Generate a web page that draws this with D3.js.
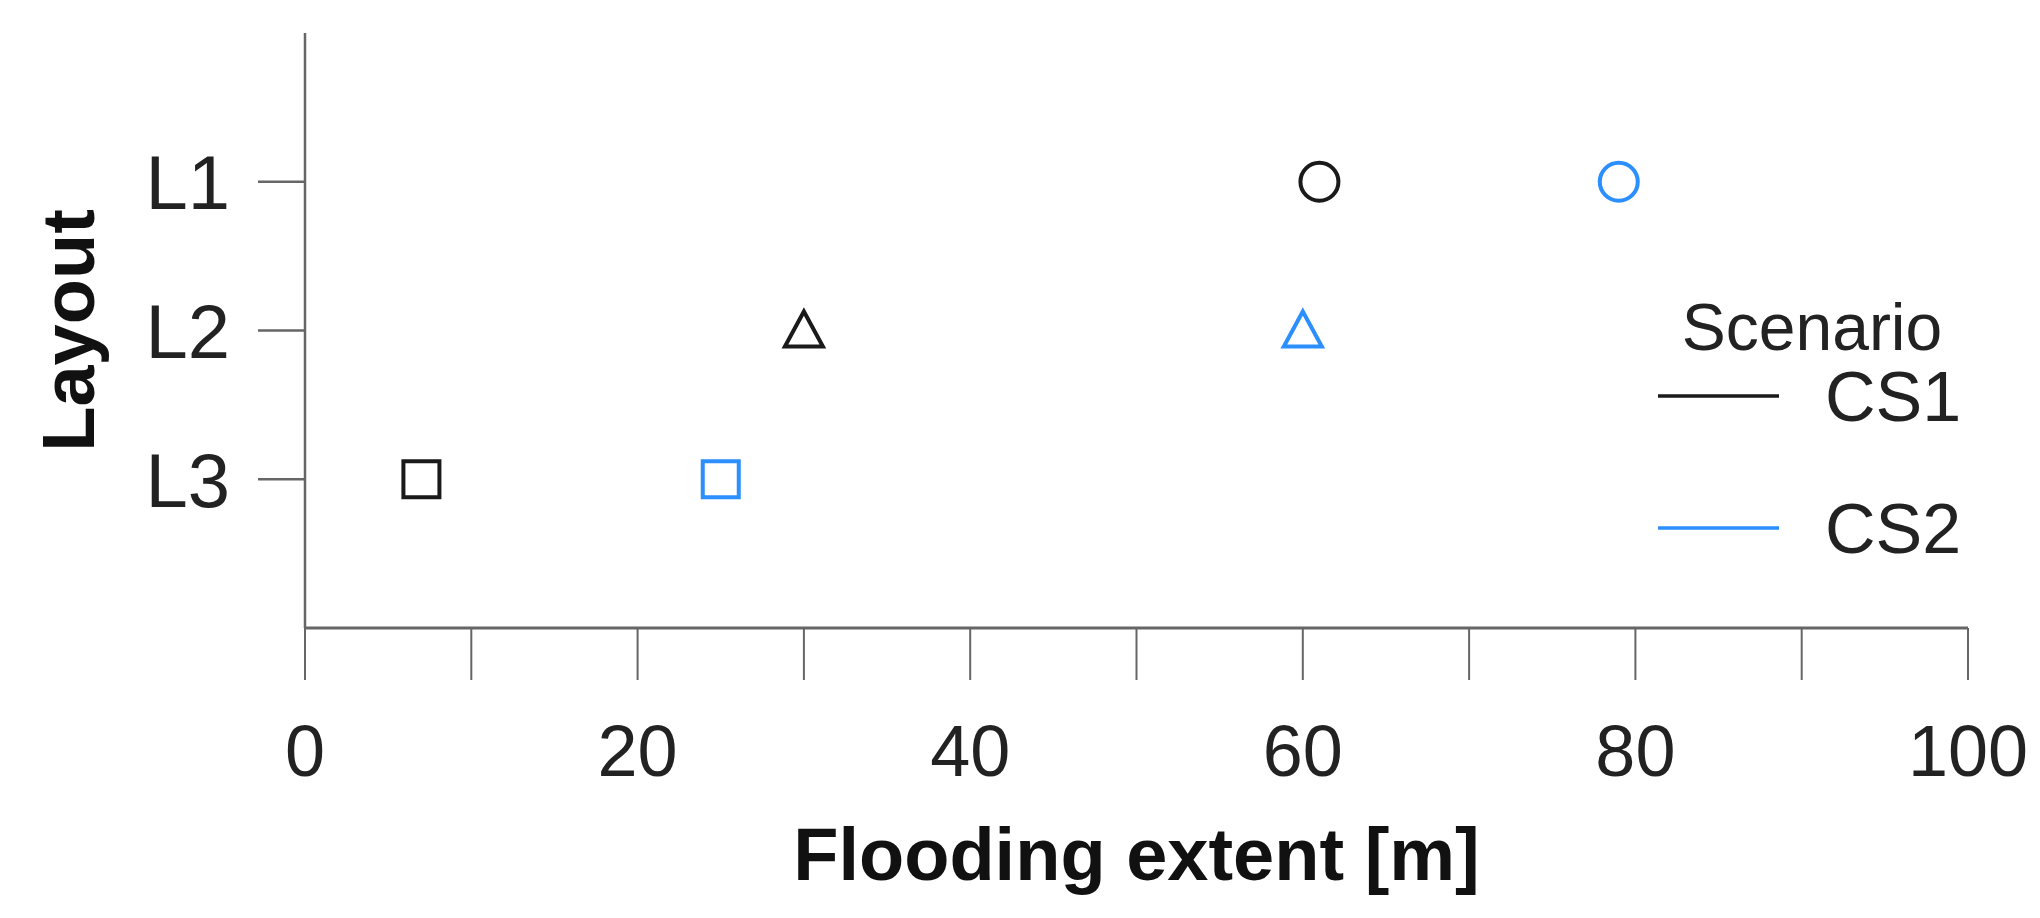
<!DOCTYPE html>
<html><head><meta charset="utf-8">
<script src="https://cdn.jsdelivr.net/npm/d3@7"></script>
<style>body{margin:0;background:#fff}text{font-family:"Liberation Sans",Arial,sans-serif}</style>
</head><body><svg id="c" width="2040" height="918"></svg>
<script>
const layouts=["L1","L2","L3"];
const shapes=["circle","triangle","square"];
const scenarios=["CS1","CS2"];
const colors=["#1a1a1a","#2b8fff"];
const cs1=[61,30,7];
const cs2=[79,60,25];
const xTicks=[0,10,20,30,40,50,60,70,80,90,100];
const xLabels=[0,20,40,60,80,100];

const svg=d3.select("#c");
const x=d3.scaleLinear().domain([0,100]).range([305,1968]);
const y=d3.scaleLinear().domain([0,4]).range([33,628]);
const yPos=l=>y(layouts.indexOf(l)+1);
const axisCol="#666";
svg.append("line").attr("x1",x(0)).attr("x2",x(0)).attr("y1",y(0)).attr("y2",y(4)).attr("stroke",axisCol).attr("stroke-width",2.5);
svg.append("line").attr("x1",x(0)).attr("x2",x(100)).attr("y1",y(4)).attr("y2",y(4)).attr("stroke",axisCol).attr("stroke-width",3);
svg.selectAll(".xt").data(xTicks).join("line").attr("x1",d=>x(d)).attr("x2",d=>x(d)).attr("y1",y(4)).attr("y2",y(4)+52).attr("stroke",axisCol).attr("stroke-width",2);
svg.selectAll(".xl").data(xLabels).join("text").attr("x",d=>x(d)).attr("y",776).attr("text-anchor","middle").attr("font-size",72).attr("fill","#222").text(d=>d);
svg.selectAll(".yt").data(layouts).join("line").attr("x1",x(0)-47).attr("x2",x(0)).attr("y1",yPos).attr("y2",yPos).attr("stroke",axisCol).attr("stroke-width",2.5);
svg.selectAll(".yl").data(layouts).join("text").attr("x",230).attr("y",d=>yPos(d)).attr("dy","0.36em").attr("text-anchor","end").attr("font-size",76).attr("fill","#222").text(d=>d);
svg.append("text").attr("x",(x(0)+x(100))/2).attr("y",880).attr("text-anchor","middle").attr("font-size",74).attr("font-weight","bold").attr("fill","#111").text("Flooding extent [m]");
svg.append("text").attr("transform","translate(94,"+y(2)+") rotate(-90)").attr("text-anchor","middle").attr("font-size",74).attr("font-weight","bold").attr("fill","#111").text("Layout");
function drawMarker(g,shape,cx,cy,col){
  const s=19;
  if(shape==="circle") g.append("circle").attr("cx",cx).attr("cy",cy).attr("r",s);
  else if(shape==="square") g.append("rect").attr("x",cx-s+1).attr("y",cy-s+1).attr("width",2*s-2).attr("height",2*s-2);
  else g.append("path").attr("d",`M${cx},${cy-s}L${cx+s},${cy+s-3}L${cx-s},${cy+s-3}Z`);
  g.selectAll("*").attr("fill","none").attr("stroke",col).attr("stroke-width",4);
}
[cs1,cs2].forEach((vals,si)=>{
  vals.forEach((v,i)=>{
    const g=svg.append("g");
    drawMarker(g,shapes[i],x(v),yPos(layouts[i]),colors[si]);
  });
});
svg.append("text").attr("x",1812).attr("y",350).attr("text-anchor","middle").attr("font-size",66).attr("fill","#222").text("Scenario");
scenarios.forEach((s,i)=>{
  const yy=396+i*132;
  svg.append("line").attr("x1",1658).attr("x2",1779).attr("y1",yy).attr("y2",yy).attr("stroke",colors[i]).attr("stroke-width",3.5);
  svg.append("text").attr("x",1825).attr("y",yy).attr("dy","0.36em").attr("font-size",70).attr("fill","#222").text(s);
});
</script></body></html>
